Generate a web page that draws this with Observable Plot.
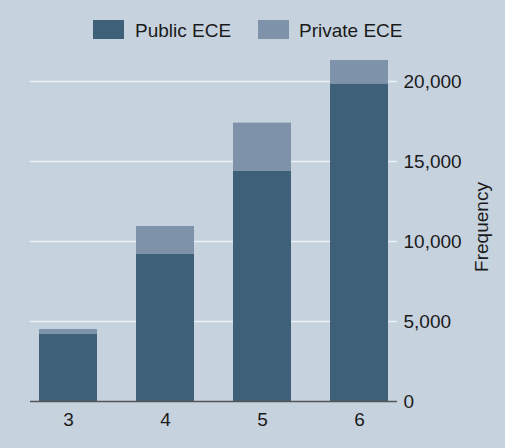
<!DOCTYPE html>
<html>
<head>
<meta charset="utf-8">
<script src="https://cdn.jsdelivr.net/npm/d3@7"></script>
<script src="https://cdn.jsdelivr.net/npm/@observablehq/plot@0.6"></script>
<style>
  html, body { margin: 0; padding: 0; background: #c6d3df; }
  body { width: 505px; height: 448px; overflow: hidden; font-family: "Liberation Sans", Arial, Helvetica, sans-serif; }
  #legend { position: relative; width: 505px; height: 48px; }
  .sw { position: absolute; width: 31px; height: 19px; top: 20px; }
  .lt { position: absolute; top: 21px; font-size: 19px; line-height: 19px; color: #1a1a1a; white-space: nowrap; }
  #chart svg { display: block; }
</style>
</head>
<body>
<div id="legend"></div>
<div id="chart"></div>
<script>
const categories = ["3", "4", "5", "6"];
const series = ["Public ECE", "Private ECE"];
const colors = ["#3e6079", "#7e93a9"];
const publicECE = [4190, 9190, 14375, 19850];
const privateECE = [310, 1750, 3025, 1460];
const yTicks = [0, 5000, 10000, 15000, 20000];

const data = [];
categories.forEach((c, i) => {
  data.push({cat: c, series: series[0], value: publicECE[i]});
  data.push({cat: c, series: series[1], value: privateECE[i]});
});

// Legend
const legend = document.getElementById("legend");
const legendPos = [{sw: 93, tx: 135}, {sw: 258, tx: 299}];
series.forEach((s, i) => {
  const sw = document.createElement("div");
  sw.className = "sw";
  sw.style.left = legendPos[i].sw + "px";
  sw.style.background = colors[i];
  legend.appendChild(sw);
  const t = document.createElement("div");
  t.className = "lt";
  t.style.left = legendPos[i].tx + "px";
  t.textContent = s;
  legend.appendChild(t);
});

const fontFamily = '"Liberation Sans", Arial, Helvetica, sans-serif';

const chart = Plot.plot({
  width: 505,
  height: 400,
  marginLeft: 30,
  marginRight: 108,
  marginTop: 4,
  marginBottom: 47,
  style: {background: "#c6d3df", fontFamily, fontSize: "19px", color: "#1a1a1a"},
  x: {type: "band", domain: categories, paddingInner: 0.4, paddingOuter: 0.075},
  y: {domain: [0, 21812.5]},
  color: {domain: series, range: colors},
  marks: [
    Plot.gridY(yTicks.slice(1), {stroke: "#eaf0f5", strokeOpacity: 1, strokeWidth: 1.6}),
    Plot.barY(data, {x: "cat", y: "value", fill: "series", order: series}),
    Plot.ruleY([0], {stroke: "#555", strokeWidth: 1.3}),
    Plot.axisX({tickSize: 0, tickPadding: 11, label: null, fontSize: 19}),
    Plot.axisY({anchor: "right", ticks: yTicks, tickFormat: d3.format(","), tickSize: 0, tickPadding: 6, label: null, fontSize: 19}),
    Plot.text(["Frequency"], {frameAnchor: "right", dx: 84, rotate: -90, fontSize: 19, fill: "#1a1a1a", lineAnchor: "middle", textAnchor: "middle"})
  ]
});
document.getElementById("chart").appendChild(chart);
</script>
</body>
</html>
